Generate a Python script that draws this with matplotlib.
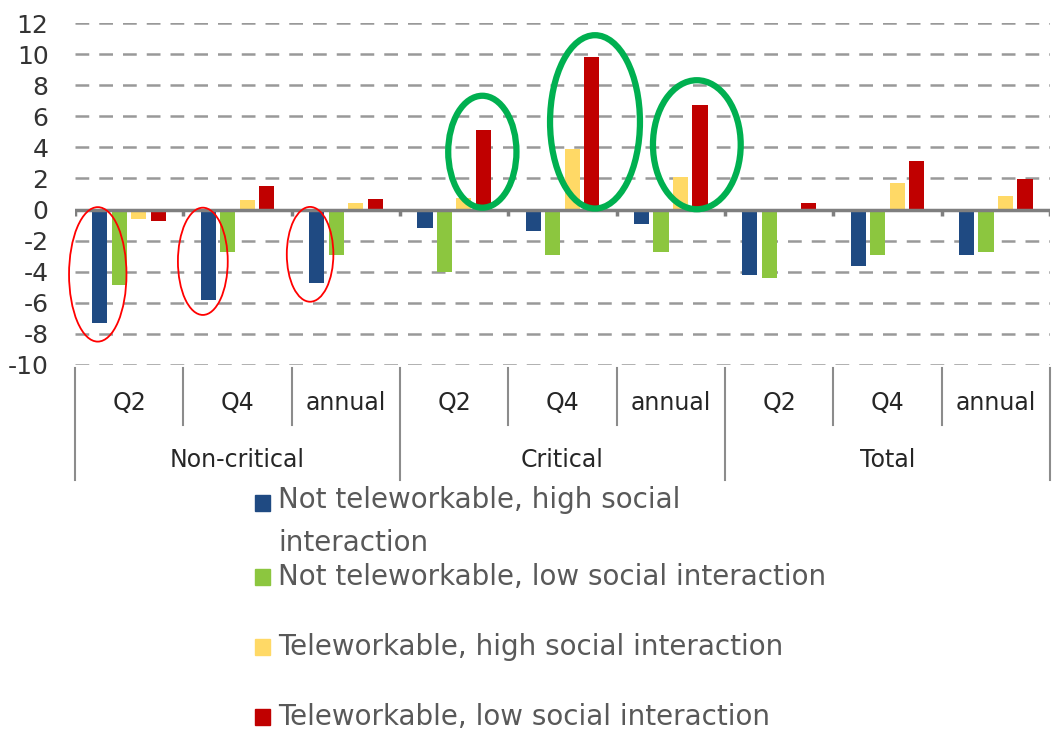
import numpy as np
import matplotlib
matplotlib.use("Agg")
import matplotlib.pyplot as plt
import matplotlib.transforms as mtransforms
from matplotlib.patches import Ellipse, Rectangle

plt.rcParams['axes.unicode_minus'] = False

groups = ['Non-critical', 'Critical', 'Total']
periods = ['Q2', 'Q4', 'annual']
series = ['Not teleworkable, high social\ninteraction',
          'Not teleworkable, low social interaction',
          'Teleworkable, high social interaction',
          'Teleworkable, low social interaction']
colors = ['#1f4a82', '#8cc63f', '#ffd966', '#c00000']

# values per series, categories ordered group x period
not_tele_high = [-7.3, -5.8, -4.7, -1.2, -1.35, -0.9, -4.2, -3.6, -2.9]
not_tele_low = [-4.85, -2.7, -2.9, -4.0, -2.9, -2.7, -4.4, -2.9, -2.7]
tele_high = [-0.6, 0.6, 0.45, 0.75, 3.9, 2.1, 0.0, 1.7, 0.9]
tele_low = [-0.75, 1.5, 0.7, 5.1, 9.8, 6.7, 0.45, 3.15, 1.95]
values = [not_tele_high, not_tele_low, tele_high, tele_low]

# highlight ellipses (center x, center y, width, height)
red_marks = [(-0.29, -4.17, 0.53, 8.65), (0.68, -3.33, 0.46, 6.9), (1.67, -2.88, 0.43, 6.1)]
green_marks = [(3.26, 3.72, 0.63, 7.2), (4.30, 5.64, 0.83, 11.15), (5.24, 4.17, 0.81, 8.3)]

fig = plt.figure(figsize=(10.56, 7.39), dpi=100)
ax = fig.add_axes([75 / 1056, 1 - 365 / 739, 975 / 1056, 342 / 739])

n = len(groups) * len(periods)
x = np.arange(n)
offsets = np.array([-1.5, -0.5, 0.5, 1.5]) * 0.18
for k in range(4):
    ax.bar(x + offsets[k], values[k], width=0.14, color=colors[k], zorder=3)

ax.set_xlim(-0.5, n - 0.5)
ax.set_ylim(-10, 12)
ax.set_yticks(np.arange(-10, 13, 2))
ax.tick_params(axis='y', length=0, labelsize=18, pad=19)
for t in ax.get_yticklabels():
    t.set_color('#333333')
ax.set_xticks([])
for s in ax.spines.values():
    s.set_visible(False)
for yv in np.arange(-10, 13, 2):
    if yv != 0:
        ax.axhline(yv, color='#999999', lw=1.8, ls=(0, (5.5, 4)), zorder=1)
ax.axhline(0, color='#7f7f7f', lw=2.5, zorder=4)

# small ticks on zero line
for b in np.arange(-0.5, n, 1):
    ax.plot([b, b], [0, -0.4], color='#7f7f7f', lw=2.5, zorder=4, solid_capstyle='butt')

# multi-level category axis
trans = mtransforms.blended_transform_factory(ax.transData, ax.transAxes)
for b in np.arange(-0.5, n, 1):
    bottom = -0.336 if (b + 0.5) % 3 == 0 else -0.175
    ax.plot([b, b], [-0.01, bottom], color='#8c8c8c', lw=1.5, transform=trans, clip_on=False)
for i in range(n):
    ax.text(x[i], -0.111, periods[i % 3], transform=trans, ha='center', va='center',
            fontsize=17, color='#262626')
for g, name in enumerate(groups):
    ax.text(3 * g + 1, -0.278, name, transform=trans, ha='center', va='center',
            fontsize=17, color='#262626')

# highlight ellipses
for cx, cy, w, h in red_marks:
    ax.add_patch(Ellipse((cx, cy), w, h, fill=False, ec='#ff0000', lw=1.3, zorder=5, clip_on=False))
for cx, cy, w, h in green_marks:
    ax.add_patch(Ellipse((cx, cy), w, h, fill=False, ec='#00b050', lw=4.5, zorder=5, clip_on=False))

# legend below
ys = [503, 577, 647, 717]
for k in range(4):
    fig.add_artist(Rectangle((255 / 1056, 1 - (ys[k] + 8) / 739), 15 / 1056, 16 / 739,
                             transform=fig.transFigure, color=colors[k]))
    if '\n' in series[k]:
        fig.text(278 / 1056, 1 - (ys[k] - 17) / 739, series[k], ha='left', va='top',
                 fontsize=20, color='#595959', linespacing=1.7)
    else:
        fig.text(278 / 1056, 1 - ys[k] / 739, series[k], ha='left', va='center',
                 fontsize=20, color='#595959')

fig.savefig('out.png', dpi=100)
